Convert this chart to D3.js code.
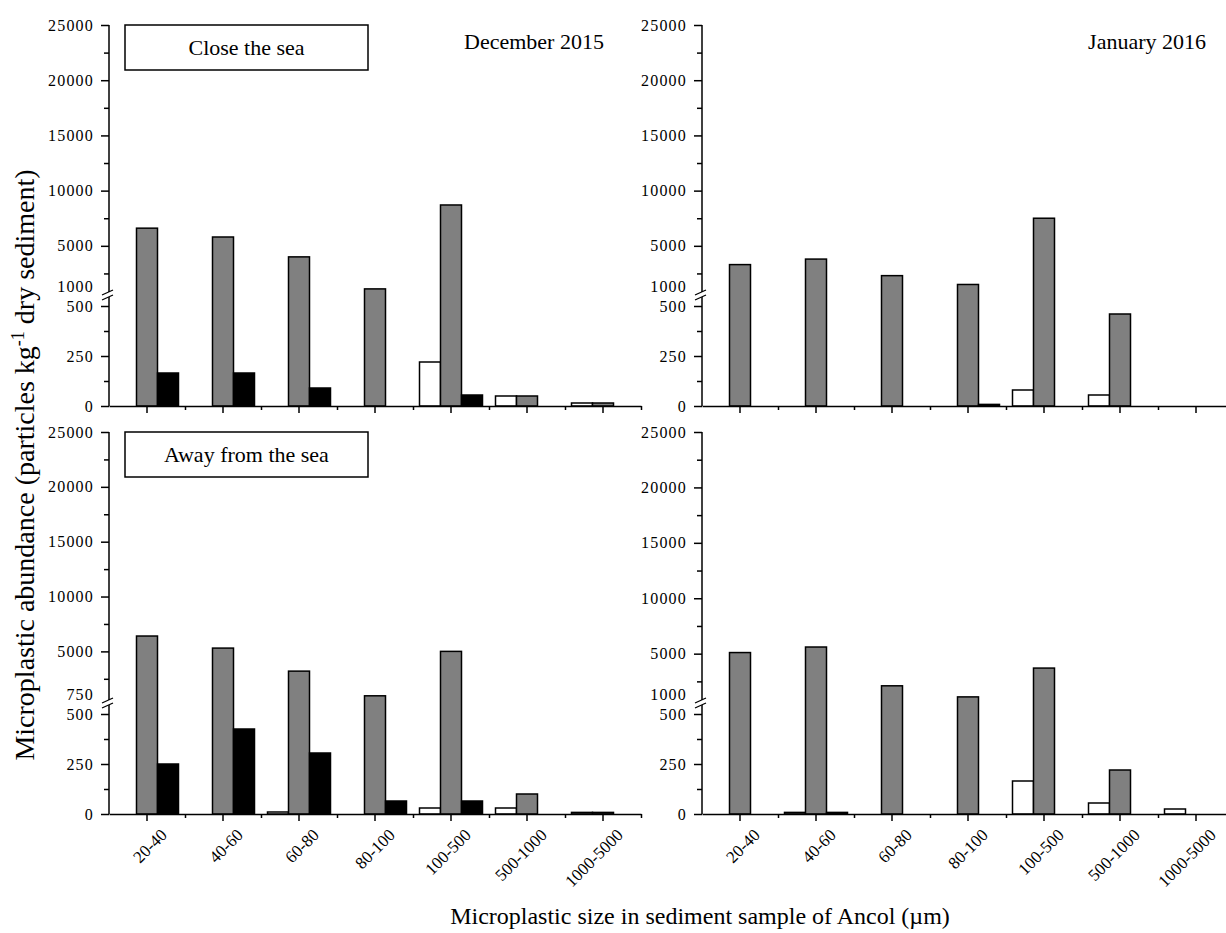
<!DOCTYPE html>
<html><head><meta charset="utf-8">
<script src="https://cdn.jsdelivr.net/npm/d3@7"></script>
<style>
body{margin:0;background:#fff}
svg{display:block}
text{font-family:"Liberation Serif","Times New Roman",serif;fill:#000}
</style>
</head><body>
<svg id="chart" width="1226" height="933"></svg>
<script>
// ---- data ----
const categories = ["20-40","40-60","60-80","80-100","100-500","500-1000","1000-5000"];
const seriesKeys = ["white","gray","black"];
const seriesColors = ["#ffffff","#808080","#000000"];

const decCloseWhite = [0,0,0,0,220,50,15];
const decCloseGray  = [6600,5800,4000,1100,8700,50,15];
const decCloseBlack = [165,165,90,0,55,0,0];

const janCloseWhite = [0,0,0,0,80,55,0];
const janCloseGray  = [3300,3800,2300,1500,7500,460,0];
const janCloseBlack = [0,0,0,8,0,0,0];

const decAwayWhite = [0,0,10,0,30,30,8];
const decAwayGray  = [6400,5300,3200,950,5000,100,8];
const decAwayBlack = [250,425,305,65,65,0,0];

const janAwayWhite = [0,8,0,0,165,55,25];
const janAwayGray  = [5100,5600,2100,1100,3700,220,0];
const janAwayBlack = [0,8,0,0,0,0,0];

const upperTicks = [5000,10000,15000,20000,25000];
const upperMinor = [2500,7500,12500,17500,22500];
const lowerTicks = [0,250,500];
const lowerMinor = [125,375];

const panels = [
  {month:"December 2015", site:"Close the sea", w:decCloseWhite, g:decCloseGray, b:decCloseBlack, start:1000, col:0, row:0},
  {month:"January 2016",  site:null,            w:janCloseWhite, g:janCloseGray, b:janCloseBlack, start:1000, col:1, row:0},
  {month:null,            site:"Away from the sea", w:decAwayWhite, g:decAwayGray, b:decAwayBlack, start:750, col:0, row:1},
  {month:null,            site:null,            w:janAwayWhite, g:janAwayGray, b:janAwayBlack, start:1000, col:1, row:1}
];

// ---- layout ----
const svg = d3.select("#chart");
const colX = [109, 702];
const plotW = 532;
const rowTop = [25, 432];
const rowBot = [406, 814];
const lowerH = 100;   // px for 0..500
const gapTop = 116;   // offset of upper segment start above baseline

panels.forEach(p => {
  const x0 = colX[p.col], x1 = x0 + plotW;
  const yT = rowTop[p.row], yB = rowBot[p.row];
  const g = svg.append("g");

  const x = d3.scaleBand().domain(categories).range([x0, x1]).padding(0);
  const bw = x.bandwidth();
  const xs = d3.scaleBand().domain(seriesKeys).range([(bw-63)/2, (bw+63)/2]).padding(0);
  const lower = d3.scaleLinear().domain([0,500]).range([yB, yB-lowerH]);
  const upper = d3.scaleLinear().domain([p.start, 25000]).range([yB-gapTop, yT]);
  const y = v => v <= 560 ? lower(v) : upper(v);

  // bars
  const rows = [];
  categories.forEach((c,i) => {
    [p.w[i], p.g[i], p.b[i]].forEach((v,k) => { if (v > 0) rows.push({c, k, v}); });
  });
  g.selectAll("rect.bar").data(rows).enter().append("rect")
    .attr("x", d => x(d.c) + xs(seriesKeys[d.k]))
    .attr("width", xs.bandwidth())
    .attr("y", d => y(d.v))
    .attr("height", d => yB - y(d.v))
    .attr("fill", d => seriesColors[d.k])
    .attr("stroke", "#000").attr("stroke-width", 1.5);

  // y axis ticks
  const axU = g.append("g").attr("transform", `translate(${x0},0)`)
    .call(d3.axisLeft(upper).tickValues(upperTicks).tickSize(8).tickSizeOuter(0).tickFormat(d3.format("d")));
  const axUm = g.append("g").attr("transform", `translate(${x0},0)`)
    .call(d3.axisLeft(upper).tickValues(upperMinor).tickSize(5).tickSizeOuter(0).tickFormat(""));
  const axL = g.append("g").attr("transform", `translate(${x0},0)`)
    .call(d3.axisLeft(lower).tickValues(lowerTicks).tickSize(8).tickSizeOuter(0).tickFormat(d3.format("d")));
  const axLm = g.append("g").attr("transform", `translate(${x0},0)`)
    .call(d3.axisLeft(lower).tickValues(lowerMinor).tickSize(5).tickSizeOuter(0).tickFormat(""));
  [axU, axUm, axL, axLm].forEach(a => {
    a.select(".domain").remove();
    a.selectAll("line").attr("stroke","#000").attr("stroke-width",1.5);
    a.selectAll("text").attr("font-size",16).attr("letter-spacing","1.2px")
      .attr("font-family","Liberation Serif").attr("x",-15).attr("fill","#333");
  });
  g.append("text").attr("x", x0-15).attr("y", upper(p.start)-3).attr("dy","0.32em")
    .attr("text-anchor","end").attr("font-size",16).attr("letter-spacing","1.2px").attr("fill","#333")
    .text(p.start);

  // y axis lines with break
  g.append("line").attr("x1",x0).attr("x2",x0).attr("y1",yB).attr("y2",yB-lowerH-9)
    .attr("stroke","#000").attr("stroke-width",1.5);
  g.append("line").attr("x1",x0).attr("x2",x0).attr("y1",yB-gapTop+2).attr("y2",yT)
    .attr("stroke","#000").attr("stroke-width",1.5);
  [0,5].forEach(o => {
    g.append("line").attr("x1",x0-7).attr("y1",yB-lowerH-6-o).attr("x2",x0+4).attr("y2",yB-lowerH-11-o)
      .attr("stroke","#000").attr("stroke-width",1.3);
  });

  // x axis
  const axX = g.append("g").attr("transform",`translate(0,${yB})`)
    .call(d3.axisBottom(x).tickSize(7).tickSizeOuter(0).tickFormat(p.row===1 ? (d=>d) : ""));
  const edge = d3.scaleLinear().domain([0, categories.length]).range([x0, x1]);
  const axXm = g.append("g").attr("transform",`translate(0,${yB})`)
    .call(d3.axisBottom(edge).tickValues(d3.range(1, categories.length+1)).tickSize(4).tickSizeOuter(0).tickFormat(""));
  axXm.select(".domain").remove();
  axX.select(".domain").attr("stroke","#000").attr("stroke-width",1.5);
  [axX, axXm].forEach(a => a.selectAll("line").attr("stroke","#000").attr("stroke-width",1.5));
  axX.selectAll("text").attr("font-size",17).attr("fill","#222")
    .attr("text-anchor","end").attr("y",0).attr("dy",0)
    .attr("transform","translate(21,22) rotate(-45)");

  // annotations
  if (p.site) {
    const bx = x0 + 16, by = yT, bwid = 243, bh = 45;
    g.append("rect").attr("x",bx).attr("y",by).attr("width",bwid).attr("height",bh)
      .attr("fill","#fff").attr("stroke","#000").attr("stroke-width",1.5);
    g.append("text").attr("x",bx+bwid/2).attr("y",by+bh/2).attr("dy","0.35em")
      .attr("text-anchor","middle").attr("font-size",22).text(p.site);
  }
  if (p.month) {
    const t = g.append("text").attr("y", yT+24).attr("font-size",22).text(p.month);
    if (p.col === 0) t.attr("x", 534).attr("text-anchor","middle");
    else t.attr("x", 1206).attr("text-anchor","end");
  }
});

// axis titles
const yt = svg.append("text").attr("transform","translate(34,465) rotate(-90)")
  .attr("text-anchor","middle").attr("font-size",28);
yt.append("tspan").text("Microplastic abundance (particles kg");
yt.append("tspan").attr("dy",-10).attr("font-size",18).text("-1");
yt.append("tspan").attr("dy",10).text(" dry sediment)");

svg.append("text").attr("x",700).attr("y",924).attr("text-anchor","middle")
  .attr("font-size",24).text("Microplastic size in sediment sample of Ancol (\u00b5m)");
</script>
</body></html>
